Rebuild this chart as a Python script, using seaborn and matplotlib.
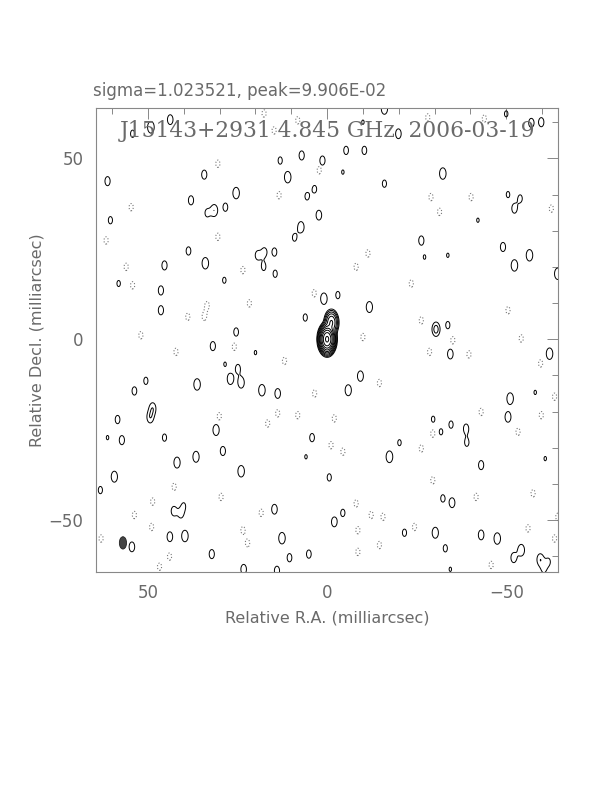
import numpy as np
import matplotlib
matplotlib.use("Agg")
import matplotlib.pyplot as plt
import seaborn as sns
from matplotlib.patches import Ellipse

# positive noise peaks (RA, Dec in mas, peak in units of lowest contour)
pos_ra = [49.2, 43.8, 54.3, 7.1, 1.3, 13.1, 61.3, 34.3, 11.0, 25.4, 38.0, 31.5, 33.5, 28.4,
          60.5, 2.3, 5.6, 3.5, 7.3, 9.1, 38.7, 34.0, 45.4, 19.4, 17.5, 14.7, 17.7, 14.5,
          28.7, 46.4, 46.4, 0.9, 6.1, 58.2, -16.0, -10.4, -5.3, -19.9, -57.0, -59.8, -50.0,
          -10.0, -32.3, -16.0, -53.9, -52.3, -50.5, -26.3, -49.1, -56.5, -52.3, -64.4, -11.8,
          -3.0, -33.7, -27.2, -33.7, -30.4, -42.1, -4.4, 25.4, 31.9, 24.9, 27.0, 24.0, 36.3,
          18.2, 13.8, 50.6, 53.8, 48.7, 49.4, 58.5, 57.3, 61.3, 45.4, 31.0, 29.1, 36.6, 41.9,
          24.0, 59.4, 63.3, 14.7, 42.8, 40.8, 40.0, 43.9, 39.7, 54.5, 12.6, 5.1, 10.5, 32.2,
          23.3, 14.0, 4.2, 5.9, -0.6, 20.0, 28.5, -30.4, -34.4, -62.1, -9.3, -5.9, -51.1,
          -50.5, -58.1, -34.6, -38.8, -39.0, -29.6, -31.8, -20.2, -17.4, -43.0, -60.9, -32.3,
          -34.9, -2.0, -4.4, -21.6, -30.2, -43.0, -47.5, -54.2, -52.1, -59.5, -61.8, -33.0,
          -34.4, -60.5]
pos_dec = [58.6, 60.7, 56.8, 50.8, 49.4, 49.4, 43.7, 45.5, 44.8, 40.4, 38.4, 35.6, 34.9, 36.5,
           32.9, 34.3, 39.5, 41.5, 31.0, 28.1, 24.4, 21.0, 20.4, 23.2, 24.1, 24.1, 20.0, 18.1,
           16.3, 13.5, 8.0, 11.2, 6.0, 15.4, 63.7, 52.2, 52.2, 56.8, 59.8, 60.0, 62.3,
           60.0, 45.8, 43.0, 38.9, 36.1, 40.0, 27.3, 25.5, 23.2, 20.4, 18.1, 8.9,
           12.2, 23.2, 22.7, 3.9, 3.0, 32.9, 46.2, 2.0, -1.9, -8.1, -11.0, -12.0, -12.5,
           -14.1, -15.0, -11.5, -14.3, -19.1, -21.6, -22.2, -27.9, -27.2, -27.2, -25.1, -30.9,
           -32.5, -34.1, -36.5, -38.0, -41.7, -47.0, -47.5, -48.3, -46.0, -54.6, -54.4, -57.4,
           -55.0, -59.4, -60.4, -59.4, -63.6, -64.0, -27.2, -32.5, -38.2, -3.7, -6.9, 2.5,
           -4.1, -4.0, -10.2, -14.1, -16.4, -21.5, -14.7, -23.6, -24.7, -28.6, -22.1, -25.6,
           -28.6, -32.5, -34.8, -33.0, -44.0, -45.2, -50.5, -48.0, -53.5, -53.5, -54.1, -55.1,
           -58.3, -60.4, -60.9, -61.5, -57.8, -63.6, -63.6]
pos_amp = [1.95, 1.6, 1.3, 1.5, 1.5, 1.3, 1.5, 1.5, 1.9, 1.9, 1.5, 1.95, 1.3, 1.4,
           1.3, 1.6, 1.3, 1.3, 1.8, 1.3, 1.4, 1.9, 1.5, 1.4, 1.4, 1.4, 1.3, 1.3,
           1.2, 1.5, 1.5, 1.9, 1.3, 1.2, 1.8, 1.4, 1.4, 1.6, 1.5, 1.5, 1.2,
           1.1, 1.9, 1.3, 1.3, 1.5, 1.2, 1.5, 1.5, 1.9, 1.9, 1.9, 1.8,
           1.3, 1.1, 1.1, 1.3, 1.4, 1.1, 1.1, 1.4, 1.5, 1.4, 1.8, 1.8, 1.9,
           1.9, 1.6, 1.3, 1.4, 1.8, 1.8, 1.4, 1.5, 1.1, 1.3, 1.8, 1.5, 1.8, 1.8,
           1.9, 1.8, 1.3, 1.6, 1.5, 1.3, 1.1, 1.6, 1.9, 1.6, 1.9, 1.4, 1.4, 1.5,
           1.6, 1.5, 1.4, 1.1, 1.3, 1.1, 1.1, 1.3, 1.6, 1.9, 1.7, 1.8, 1.9,
           1.7, 1.1, 1.3, 1.5, 1.3, 1.2, 1.2, 1.2, 1.95, 1.5, 1.1, 1.3,
           1.6, 1.6, 1.3, 1.3, 1.8, 1.6, 1.9, 1.9, 1.6, 1.9, 1.2, 1.3,
           1.1, 1.2]

# negative noise peaks (drawn dotted)
neg_ra = [54.7, 61.7, 56.1, 54.3, 30.5, 23.5, 33.5, 38.9, 34.3, 21.7, 8.2, 17.6, 14.8, 3.6,
          2.2, 13.4, 30.5, -28.1, -43.9, -29.0, -31.4, -40.2, -62.6, -11.4, -8.1, -23.5,
          -50.5, -26.3, 52.0, 42.2, 25.9, 11.9, 16.6, 13.8, 8.2, 3.5, 29.6, 42.7, 48.7,
          53.8, 63.1, 22.2, 46.8, 44.0, 23.5, 18.4, 49.0, 30.1, -10.0, -35.1, -28.6, -39.6,
          -54.2, -59.6, -14.6, -63.5, -59.8, -43.0, -2.0, -53.3, -29.5, -1.1, -4.4, -26.3,
          -29.5, -57.5, -41.6, -8.1, -8.6, -24.4, -12.3, -15.6, -14.6, -8.6, -56.1, -63.5,
          -45.8, -64.4]
neg_dec = [36.5, 27.3, 20.0, 14.9, 28.3, 19.1, 9.4, 6.2, 6.2, 9.9, 60.5, 62.4, 57.7, 12.7,
           46.7, 39.8, 48.5, 61.3, 61.0, 39.3, 35.2, 39.3, 36.1, 23.7, 20.0, 15.4,
           8.0, 5.2, 1.1, -3.5, -2.1, -6.0, -23.3, -20.5, -21.0, -15.0, -43.6, -40.8, -44.9,
           -48.6, -55.1, -56.4, -62.9, -60.1, -52.8, -48.0, -51.9, -21.3, 0.6, -0.3, -3.5, -4.2,
           0.2, -6.7, -12.1, -15.9, -21.0, -20.1, -21.9, -25.6, -26.1, -29.3, -31.1, -30.2,
           -39.0, -42.6, -43.6, -45.4, -52.8, -51.9, -48.6, -49.1, -56.9, -58.8, -52.3, -55.1,
           -62.4, -49.1]
neg_amp = 1.3

# source components
core_ra = [0.0, -1.2]
core_dec = [0.0, 4.6]
core_amp = [600.0, 35.0]

# restoring beam (mas)
beam_ra, beam_dec = 57.0, -56.3
beam_minor, beam_major = 2.0, 3.4
beam_sx, beam_sy = 0.8, 1.4

levels = [2.0 ** k for k in range(10)]

sns.set_theme(style="white")
plt.rcParams["font.family"] = ["DejaVu Sans"]

gx = np.arange(-66, 66, 0.2)
gy = np.arange(-66, 66, 0.2)
X, Y = np.meshgrid(gx, gy)


def field(ras, decs, amps, sx=beam_sx, sy=beam_sy):
    Z = np.zeros_like(X)
    for r, d, a in zip(ras, decs, amps):
        Z += a * np.exp(-((X - r) ** 2 / (2 * sx ** 2) + (Y - d) ** 2 / (2 * sy ** 2)))
    return Z


Zpos = field(pos_ra, pos_dec, pos_amp) + field(core_ra, core_dec, core_amp)
Zneg = field(neg_ra, neg_dec, [neg_amp] * len(neg_ra))

fig = plt.figure(figsize=(6.12, 7.92), dpi=100)
ax = fig.add_axes([0.157, 0.278, 0.755, 0.586])

ax.contour(X, Y, Zpos, levels=levels, colors="black", linewidths=0.7)
ax.contour(X, Y, Zneg, levels=[1.0], colors="#777777", linestyles=":", linewidths=0.8)

ax.add_patch(Ellipse((beam_ra, beam_dec), beam_minor, beam_major,
                     facecolor="#444444", edgecolor="#222222", lw=0.6))

ax.set_xlim(64.5, -64.5)
ax.set_ylim(-64.3, 64.0)
ax.set_xticks([50, 0, -50])
ax.set_yticks([50, 0, -50])
ax.set_xticklabels(["50", "0", "\u221250"])
ax.set_yticklabels(["50", "0", "\u221250"])
ax.set_xticks(np.arange(-60, 61, 10), minor=True)
ax.set_yticks(np.arange(-60, 61, 10), minor=True)
ax.tick_params(which="both", direction="in", top=True, right=True, colors="#888888",
               labelcolor="#6a6a6a", labelsize=12, width=0.7)
ax.tick_params(which="major", length=8, pad=9)
ax.tick_params(which="minor", length=4)
for s in ax.spines.values():
    s.set_color("#888888")
    s.set_linewidth(0.8)

ax.set_xlabel("Relative R.A. (milliarcsec)", fontsize=11.5, color="#6a6a6a", labelpad=6)
ax.set_ylabel("Relative Decl. (milliarcsec)", fontsize=11.5, color="#6a6a6a", labelpad=3)

fig.text(93 / 612, 1 - 96 / 792, "sigma=1.023521, peak=9.906E-02",
         fontsize=12, color="#6a6a6a", ha="left", va="baseline")
ax.text(0.5, 0.949, "J15143+2931 4.845 GHz  2006-03-19", transform=ax.transAxes,
        fontsize=15.7, color="#6a6a6a", family="DejaVu Serif", ha="center", va="center")

fig.savefig("out.png", dpi=100, facecolor="white")
